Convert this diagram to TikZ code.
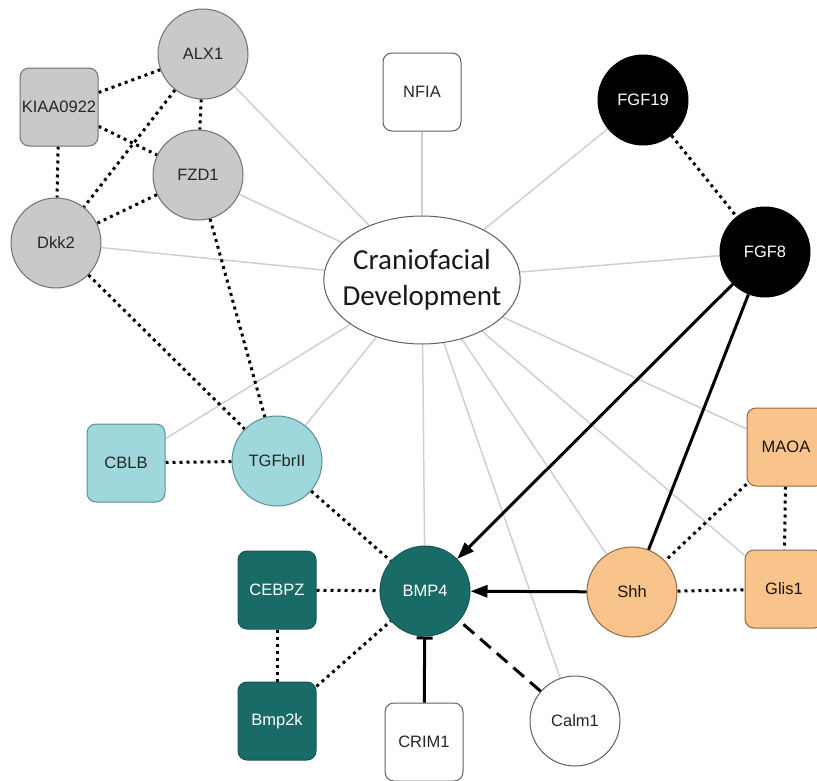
\documentclass[tikz,border=0pt]{standalone}
\usepackage{fontspec}
\setmainfont{Liberation Sans}
\newfontfamily\carlito{Carlito}
\usetikzlibrary{shapes.geometric,arrows.meta,backgrounds}
\definecolor{gfill}{HTML}{C9C9C9}
\definecolor{gdraw}{HTML}{707070}
\definecolor{cfill}{HTML}{9FD8DC}
\definecolor{cdraw}{HTML}{5E8E90}
\definecolor{tfill}{HTML}{196B67}
\definecolor{ofill}{HTML}{F9C38C}
\definecolor{odraw}{HTML}{8C6A48}
\definecolor{wdraw}{HTML}{606060}
\definecolor{cdline}{HTML}{CFCFCF}
\begin{document}
\begin{tikzpicture}[x=1pt,y=-1pt,
  every node/.style={font=\fontsize{16.5}{19}\selectfont},
  circ/.style={circle, draw, line width=1pt, minimum size=90pt, inner sep=0pt},
  sq/.style={rectangle, rounded corners=9pt, draw, line width=1pt, minimum width=78pt, minimum height=78pt, inner sep=0pt},
  grayn/.style={fill=gfill, draw=gdraw, text=black!85},
  cyann/.style={fill=cfill, draw=cdraw, text=black!85},
  tealn/.style={fill=tfill, draw=tfill!80!black, text=white},
  orangen/.style={fill=ofill, draw=odraw, text=black!85!brown},
  blackn/.style={fill=black, draw=black, text=white},
  whiten/.style={fill=white, draw=wdraw, text=black!85},
  cd/.style={draw=cdline, line width=1.5pt},
  dots/.style={line width=3pt, dash pattern=on 3pt off 4pt},
  act/.style={line width=3pt, -{Triangle[length=17pt,width=12pt]}},
  plainact/.style={line width=3pt},
  inhib/.style={line width=3pt, -{Bar[width=16pt,line width=3pt]}},
  dashedlink/.style={line width=3pt, dash pattern=on 14pt off 8pt},
]
\useasboundingbox (0,0) rectangle (817,780);
% center
\node[ellipse, draw=wdraw, fill=white, line width=1pt, minimum width=196pt, minimum height=128pt, inner xsep=-10pt, inner ysep=0pt, align=center, font=\carlito\fontsize{29}{36}\selectfont, text=black!90] (cd) at (422,280) {Craniofacial\\Development};
% gray cluster
\node[circ, grayn] (alx) at (203,54) {ALX1};
\node[sq, grayn] (kiaa) at (59,107) {KIAA0922};
\node[circ, grayn] (fzd) at (198,175) {FZD1};
\node[circ, grayn] (dkk) at (56,243) {Dkk2};
% top
\node[sq, whiten] (nfia) at (422,92) {NFIA};
\node[circ, blackn] (fgf19) at (643,100) {FGF19};
\node[circ, blackn] (fgf8) at (765,252) {FGF8};
% middle
\node[sq, cyann] (cblb) at (126,463) {CBLB};
\node[circ, cyann] (tgf) at (277,461) {TGFbrII};
\node[sq, orangen] (maoa) at (786,447) {MAOA};
% bottom
\node[sq, tealn] (cebpz) at (277,590) {CEBPZ};
\node[circ, tealn] (bmp4) at (425,591) {BMP4};
\node[circ, orangen] (shh) at (632,592) {Shh};
\node[sq, orangen] (glis) at (784,589) {Glis1};
\node[sq, tealn] (bmp2k) at (277,721) {Bmp2k};
\node[sq, whiten] (crim) at (424,742) {CRIM1};
\node[circ, whiten] (calm) at (575,721) {Calm1};
\begin{scope}[on background layer]
% gray links to center
\foreach \n in {alx,fzd,dkk,nfia,fgf19,fgf8,cblb,tgf,maoa,bmp4,shh,glis,calm}
  \draw[cd] (cd) -- (\n);
% dotted links
\draw[dots] (kiaa) -- (alx);
\draw[dots] (kiaa) -- (fzd);
\draw[dots] (kiaa) -- (dkk);
\draw[dots] (alx) -- (fzd);
\draw[dots] (alx) -- (dkk);
\draw[dots] (fzd) -- (dkk);
\draw[dots] (fzd) -- (tgf);
\draw[dots] (dkk) -- (tgf);
\draw[dots] (fgf19) -- (fgf8);
\draw[dots] (cblb) -- (tgf);
\draw[dots] (tgf) -- (bmp4);
\draw[dots] (cebpz) -- (bmp4);
\draw[dots] (cebpz) -- (bmp2k);
\draw[dots] (bmp2k) -- (bmp4);
\draw[dots] (maoa) -- (shh);
\draw[dots] (maoa) -- (glis);
\draw[dots] (shh) -- (glis);
\end{scope}
% solid black relations
\draw[act] (fgf8) -- (bmp4);
\draw[plainact] (fgf8) -- (shh);
\draw[act] (shh) -- (bmp4);
\draw[inhib] (crim) -- (bmp4);
\draw[dashedlink] (calm) -- (bmp4);
\end{tikzpicture}
\end{document}
